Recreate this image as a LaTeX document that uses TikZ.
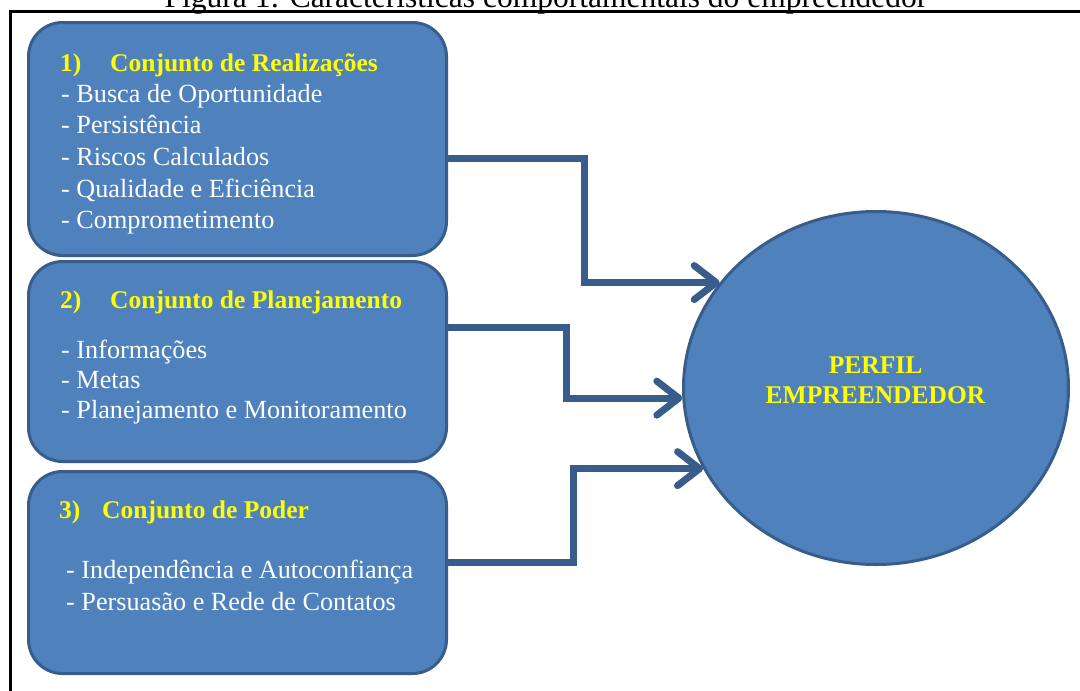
\documentclass[tikz,border=0pt]{standalone}
\usepackage{fontspec}
\setmainfont{Liberation Serif}
\usetikzlibrary{shapes.geometric,arrows.meta,calc}
\definecolor{fillblue}{HTML}{4F81BD}
\definecolor{lineblue}{HTML}{385D8A}
\definecolor{headyellow}{HTML}{FFFF00}
\begin{document}
\begin{tikzpicture}[x=1pt,y=-1pt,
  box/.style={draw=lineblue, fill=fillblue, line width=3pt, rounded corners=34pt, minimum width=418pt, inner sep=0pt},
  item/.style={anchor=base west, inner sep=0pt, text=white, font=\fontsize{26.2}{30}\selectfont},
  head/.style={anchor=base west, inner sep=0pt, text=headyellow, font=\fontsize{25.5}{30}\selectfont\bfseries},
  conn/.style={draw=lineblue, line width=7pt, -{Straight Barb[length=22pt,width=34pt,round]}},
]
\useasboundingbox (0,0) rectangle (1080,691);
\clip (0,0) rectangle (1080,691);
\fill[white] (0,0) rectangle (1080,691);
% caption (cut off at top)
\node[anchor=base, inner sep=0pt, font=\fontsize{31.5}{36}\selectfont] (caption) at (546,7) {Figura 1: Características comportamentais do empreendedor};
% frame
\draw[line width=3pt] (10,11) rectangle (1100,720);
% boxes
\node[box, minimum height=233pt] (box1) at (237.5,139) {};
\node[box, minimum height=200pt] (box2) at (237.5,361.5) {};
\node[box, minimum height=202pt] (box3) at (237.5,572.5) {};
% box 1 text
\node[head] (h1) at (60,71) {\makebox[50pt][l]{1)}Conjunto de Realizações};
\node[item] (i11) at (61,102) {- Busca de Oportunidade};
\node[item] (i12) at (61,133) {- Persistência};
\node[item] (i13) at (61,165) {- Riscos Calculados};
\node[item] (i14) at (61,197) {- Qualidade e Eficiência};
\node[item] (i15) at (61,228) {- Comprometimento};
% box 2 text
\node[head] (h2) at (60,308) {\makebox[50pt][l]{2)}Conjunto de Planejamento};
\node[item] (i21) at (61,358) {- Informações};
\node[item] (i22) at (61,388) {- Metas};
\node[item] (i23) at (61,418) {- Planejamento e Monitoramento};
% box 3 text
\node[head] (h3) at (59,518) {\makebox[43pt][l]{3)}Conjunto de Poder};
\node[item] (i31) at (66,578) {- Independência e Autoconfiança};
\node[item] (i32) at (66,610) {- Persuasão e Rede de Contatos};
% circle
\node[ellipse, draw=lineblue, fill=fillblue, line width=3pt, minimum width=385pt, minimum height=353pt, inner sep=0pt] (circ) at (876,388) {};
\node[head, anchor=base] (p1) at (875.5,373) {PERFIL};
\node[head, anchor=base] (p2) at (875.5,403) {EMPREENDEDOR};
% connectors
\draw[conn] ([yshift=-19pt]box1.east) -- ++(136,0) |- (circ.146);
\draw[conn] ([yshift=34.5pt]box2.east) -- ++(118,0) |- (circ.183);
\draw[conn] ([yshift=10.5pt]box3.east) -- ++(125,0) |- (circ.205);
\end{tikzpicture}
\end{document}
